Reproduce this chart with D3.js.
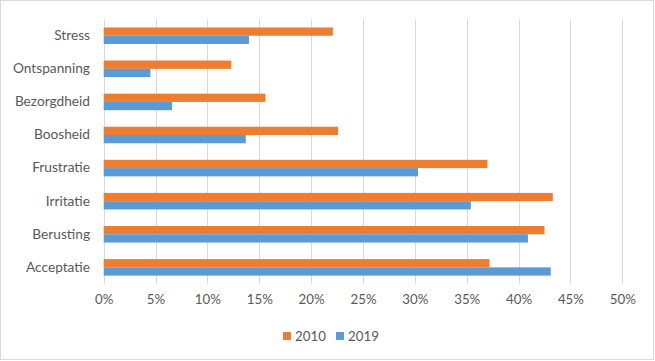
<!DOCTYPE html>
<html>
<head>
<meta charset="utf-8">
<script src="https://cdn.jsdelivr.net/npm/d3@7"></script>
<style>
	body { margin: 0; background: #fff; }
	svg { display: block; }
</style>
</head>
<body>
<svg id="chart" width="655" height="361"></svg>
<script>
// categories top to bottom
var categories = ["Stress", "Ontspanning", "Bezorgdheid", "Boosheid", "Frustratie", "Irritatie", "Berusting", "Acceptatie"];
var values2010 = [22.1, 12.3, 15.6, 22.6, 37.0, 43.3, 42.5, 37.2];
var values2019 = [14.0, 4.5, 6.6, 13.7, 30.3, 35.4, 40.9, 43.1];
var seriesNames = ["2010", "2019"];
var xTicks = [0, 5, 10, 15, 20, 25, 30, 35, 40, 45, 50];

var colors = {"2010": "#ED7D31", "2019": "#5B9BD5"};
var textColor = "#595959";
var font = "Lato, 'Open Sans', sans-serif";

var svgContainer = d3.select("#chart");

// outer chart border
svgContainer.append("rect")
	.attr("x", 0.5).attr("y", 0.5)
	.attr("width", 653).attr("height", 359)
	.attr("fill", "#fff")
	.attr("stroke", "#d9d9d9");

var plotLeft = 103.7, plotRight = 622.3, plotTop = 19.2, plotBottom = 283.9;

var xScale = d3.scaleLinear().domain([0, 50]).range([plotLeft, plotRight]);
var yScale = d3.scaleBand().domain(categories).range([plotTop, plotBottom]).paddingInner(0.5).paddingOuter(0.25);
var sub = d3.scaleBand().domain(seriesNames).range([0, yScale.bandwidth()]);

// gridlines
svgContainer.append("g")
	.selectAll("line")
	.data(xTicks)
	.enter()
	.append("line")
	.attr("x1", function(d) {return Math.round(xScale(d)) + 0.5;})
	.attr("x2", function(d) {return Math.round(xScale(d)) + 0.5;})
	.attr("y1", plotTop)
	.attr("y2", plotBottom)
	.attr("stroke", "#d9d9d9")
	.attr("stroke-width", 1);

// bars
var rows = categories.map(function(c, i) {
	return {cat: c, "2010": values2010[i], "2019": values2019[i]};
});

var barGroup = svgContainer.append("g");
seriesNames.forEach(function(s) {
	barGroup.selectAll("rect.s" + s)
		.data(rows)
		.enter()
		.append("rect")
		.attr("class", "s" + s)
		.attr("x", xScale(0))
		.attr("y", function(d) {return yScale(d.cat) + sub(s);})
		.attr("width", function(d) {return xScale(d[s]) - xScale(0);})
		.attr("height", sub.bandwidth())
		.attr("fill", colors[s]);
});

// category labels
var yAxis = d3.axisLeft(yScale).tickSize(0).tickPadding(0);
var yg = svgContainer.append("g")
	.attr("transform", "translate(90,0)")
	.call(yAxis);
yg.select(".domain").remove();
yg.selectAll("text")
	.attr("fill", textColor)
	.style("font-family", font)
	.style("font-size", "13.7px");

// x tick labels
var xAxis = d3.axisBottom(xScale).tickValues(xTicks).tickSize(0).tickPadding(0)
	.tickFormat(function(d) {return d + "%";});
var xg = svgContainer.append("g")
	.attr("transform", "translate(0,295)")
	.call(xAxis);
xg.select(".domain").remove();
xg.selectAll("text")
	.attr("fill", textColor)
	.style("font-family", font)
	.style("font-size", "13.3px");

// legend
var legendX = [283, 336];
var legend = svgContainer.append("g");
seriesNames.forEach(function(s, i) {
	legend.append("rect")
		.attr("x", legendX[i]).attr("y", 332)
		.attr("width", 8).attr("height", 8)
		.attr("fill", colors[s]);
	legend.append("text")
		.attr("x", legendX[i] + 12).attr("y", 336)
		.attr("dy", "0.35em")
		.attr("fill", textColor)
		.style("font-family", font)
		.style("font-size", "13.3px")
		.text(s);
});
</script>
</body>
</html>
